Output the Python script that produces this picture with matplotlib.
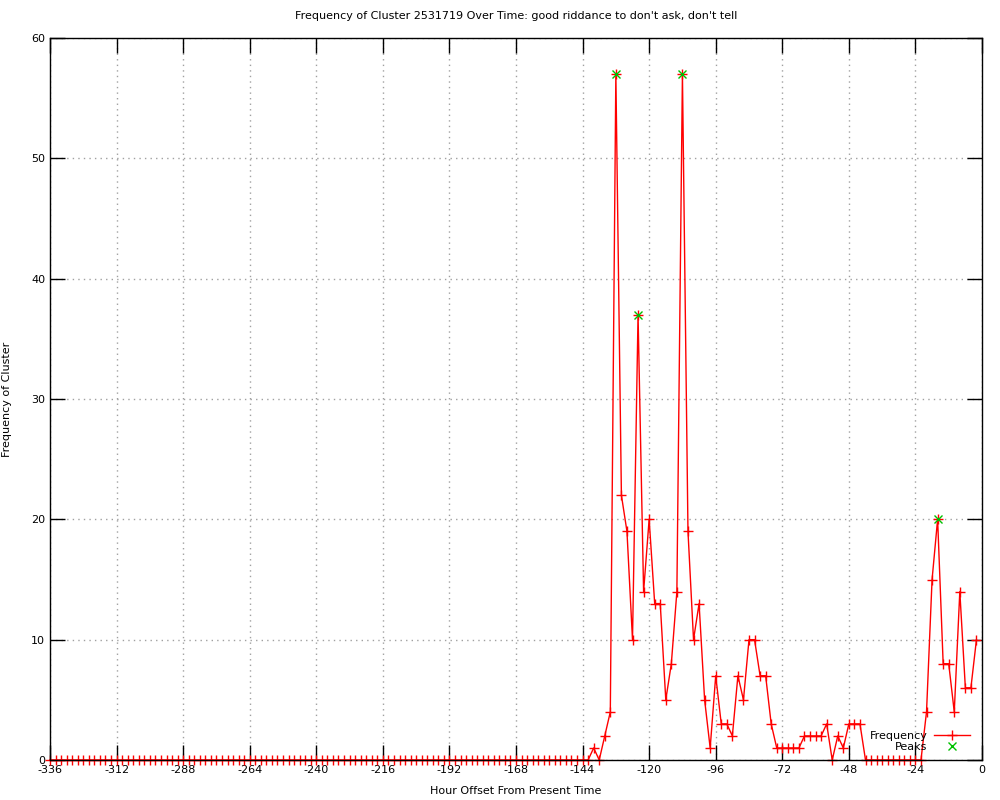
import numpy as np
import matplotlib.pyplot as plt

plt.rcParams['font.family'] = ['DejaVu Sans']
plt.rcParams['axes.unicode_minus'] = False

# hours -336 .. -2, every 2 hours
hours = list(range(-336, 0, 2))
freq = [0] * 98 + [
    1, 0, 2, 4, 57, 22, 19, 10, 37, 14, 20, 13, 13, 5, 8, 14, 57, 19, 10, 13,
    5, 1, 7, 3, 3, 2, 7, 5, 10, 10, 7, 7, 3, 1, 1, 1, 1, 1, 2, 2,
    2, 2, 3, 0, 2, 1, 3, 3, 3,
] + [0] * 11 + [4, 15, 20, 8, 8, 4, 14, 6, 6, 10]

peak_hours = [-132, -124, -108, -16]
peak_vals = [57, 37, 57, 20]

x_ticks = list(range(-336, 1, 24))
y_ticks = list(range(0, 61, 10))

fig = plt.figure(figsize=(10, 8), dpi=100)
ax = fig.add_axes([0.05, 0.05, 0.932, 0.9025])

ax.plot(hours, freq, color='red', lw=1, marker='+', ms=7, mew=1, label='Frequency', clip_on=False)
ax.plot(peak_hours, peak_vals, ls='none', marker='x', color='#00c000', ms=6, mew=1, label='Peaks',
        clip_on=False)

ax.set_xlim(-336, 0)
ax.set_ylim(0, 60)
ax.set_xticks(x_ticks)
ax.set_yticks(y_ticks)
ax.tick_params(direction='in', length=11, width=1, top=True, right=True, labelsize=8)
ax.grid(True, color='#a0a0a0', ls=(0, (1, 3)), lw=1)
for s in ax.spines.values():
    s.set_linewidth(1)
    s.set_zorder(3)

ax.set_title("Frequency of Cluster 2531719 Over Time: good riddance to don't ask, don't tell",
             fontsize=8, pad=14)
ax.set_xlabel('Hour Offset From Present Time', fontsize=8, labelpad=8)
ax.set_ylabel('Frequency of Cluster', fontsize=8, labelpad=14)

ax.legend(loc='lower right', bbox_to_anchor=(0.995, 0.0), frameon=False, markerfirst=False,
          fontsize=8, handlelength=3.2, handletextpad=0.6, labelspacing=0.1, borderaxespad=0.3)

fig.savefig('out.png')
